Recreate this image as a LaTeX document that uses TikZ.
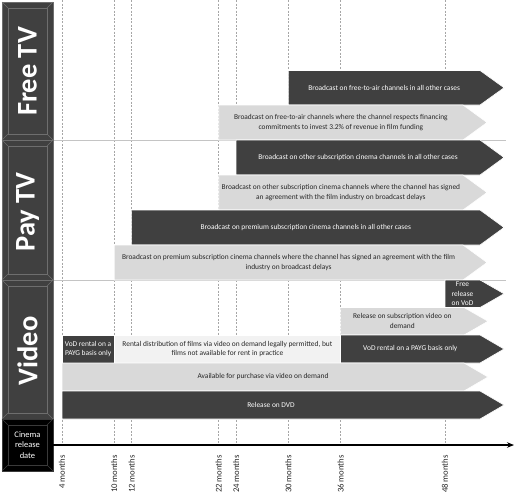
\documentclass[tikz,border=0pt]{standalone}
\usepackage{fontspec}
\setmainfont{Carlito}
\usetikzlibrary{arrows.meta}
\definecolor{dk}{HTML}{404040}
\definecolor{lt}{HTML}{D9D9D9}
\definecolor{vlt}{HTML}{F2F2F2}
\definecolor{bev}{HTML}{6E6E6E}
\definecolor{bevk}{HTML}{3A3A3A}
\definecolor{gridc}{HTML}{A6A6A6}
\definecolor{sepc}{HTML}{C4C4C4}
\definecolor{txt}{HTML}{262626}
\newcommand\arrbar[8]{%
  \filldraw[fill=#5, draw=white, line width=0.6pt] (#1,#3) -- (#2,#3) -- ({#2+24},{(#3+#4)/2}) -- (#2,#4) -- (#1,#4) -- cycle;
  \node[bartext, text=#6] (#7) at ({(#1+#2)/2},{(#3+#4)/2}) {#8};}
\newcommand\bevelbox[6]{%
  \filldraw[fill=#5, draw=#6, line width=0.5pt] (#1,#2) rectangle (#3,#4);
  \draw[#6, line width=0.5pt] ({#1+6},{#2+6}) rectangle ({#3-6},{#4-6});
  \draw[#6, line width=0.5pt] (#1,#2) -- ({#1+6},{#2+6}) (#3,#2) -- ({#3-6},{#2+6})
     (#3,#4) -- ({#3-6},{#4-6}) (#1,#4) -- ({#1+6},{#4-6});}
\begin{document}
\begin{tikzpicture}[x=1pt,y=-1pt,
  bartext/.style={align=center, inner sep=0pt, font=\fontsize{7.4}{9.6}\selectfont},
  gridline/.style={draw=gridc, dashed, dash pattern=on 2pt off 1.5pt, line width=0.5pt},
  sepline/.style={draw=sepc, line width=0.8pt},
  monthlbl/.style={rotate=90, anchor=east, inner sep=0pt, text=txt, font=\fontsize{8.7}{10}\selectfont},
  headtext/.style={rotate=90, text=white, font=\bfseries\fontsize{28.5}{29}\selectfont}]
\useasboundingbox (0,0) rectangle (516,498);
\coordinate (ax0) at (53,445);
\coordinate (ax1) at (514,445);
% dashed month lines and labels
\foreach \m/\x in {4/62,10/114.2,12/131.6,22/218.7,24/236.1,30/288.3,36/340.6,48/445}{
  \coordinate (m\m) at (\x,0);
  \draw[gridline] (m\m) -- (m\m |- ax0);
  \node[monthlbl] (l\m) at (\x,455) {\m\ months};
}
% separators
\coordinate (s1a) at (53,140); \coordinate (s1b) at (506,140);
\coordinate (s2a) at (53,280); \coordinate (s2b) at (506,280);
\draw[sepline] (s1a) -- (s1b);
\draw[sepline] (s2a) -- (s2b);
% Free TV bars
\arrbar{288.3}{480}{70.5}{105}{dk}{white}{b1}{Broadcast on free-to-air channels in all other cases}
\arrbar{218.7}{463}{105}{140}{lt}{txt}{b2}{Broadcast on free-to-air channels where the channel respects financing\\commitments to invest 3.2\% of revenue in film funding}
% Pay TV bars
\arrbar{236.1}{480}{140}{175}{dk}{white}{b3}{Broadcast on other subscription cinema channels in all other cases}
\arrbar{218.7}{463}{175}{210}{lt}{txt}{b4}{Broadcast on other subscription cinema channels where the channel has signed\\an agreement with the film industry on broadcast delays}
\arrbar{131.6}{480}{210}{245}{dk}{white}{b5}{Broadcast on premium subscription cinema channels in all other cases}
\arrbar{114.2}{463}{245}{280}{lt}{txt}{b6}{Broadcast on premium subscription cinema channels where the channel has signed an agreement with the film\\industry on broadcast delays}
% Video bars
\arrbar{445}{480}{280}{307.5}{dk}{white}{b7}{Free\\release\\on VoD}
\arrbar{340.6}{464}{307.5}{335}{lt}{txt}{b8}{Release on subscription video on\\demand}
\arrbar{340.6}{480}{335}{363}{dk}{white}{b9}{VoD rental on a PAYG basis only}
\filldraw[fill=dk, draw=white, line width=0.6pt] (62,335) rectangle (114.2,363);
\node[bartext, text=white] (b10) at (88.1,349) {VoD rental on a\\PAYG basis only};
\filldraw[fill=vlt, draw=white, line width=0.6pt] (114.2,335) rectangle (340.6,363);
\node[bartext, text=txt] (b11) at (227.4,349) {Rental distribution of films via video on demand legally permitted, but\\films not available for rent in practice};
\arrbar{62}{464}{363}{391}{lt}{txt}{b12}{Available for purchase via video on demand}
\arrbar{62}{480}{391}{419}{dk}{white}{b13}{Release on DVD}
% category headers
\bevelbox{2}{2}{53}{140}{dk}{bev}
\node[headtext] (hfree) at (27.5,71.5) {Free TV};
\bevelbox{2}{140}{53}{280}{dk}{bev}
\node[headtext] (hpay) at (27.5,212) {Pay TV};
\bevelbox{2}{280}{53}{419}{dk}{bev}
\node[headtext] (hvid) at (27.5,351) {Video};
\bevelbox{2}{419}{53}{471}{black}{bevk}
\node[align=center, text=white, inner sep=0pt, font=\fontsize{8.5}{10.5}\selectfont] (hcin) at (27.5,445) {Cinema\\release\\date};
% axis
\draw[line width=1.3pt, -{Stealth[length=7pt,width=5.5pt]}] (ax0) -- (ax1);
\end{tikzpicture}
\end{document}
